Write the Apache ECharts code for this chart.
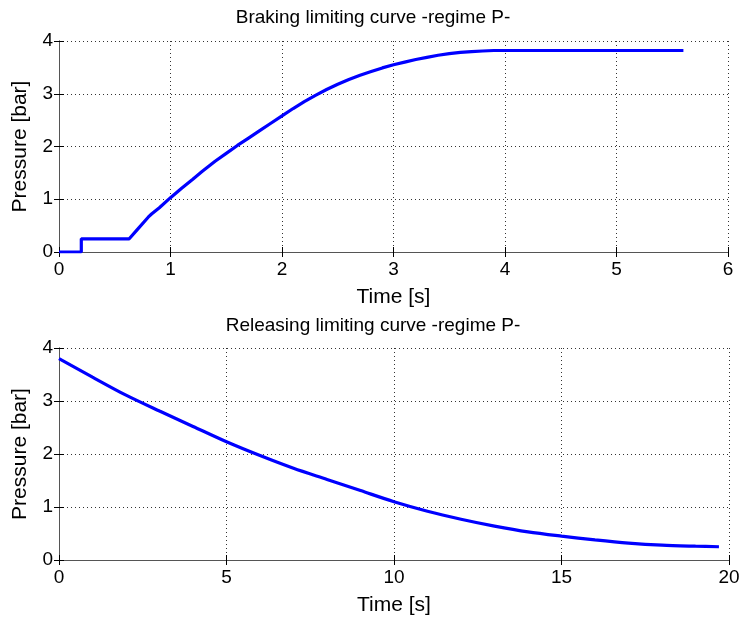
<!DOCTYPE html>
<html>
<head>
<meta charset="utf-8">
<script src="https://cdn.jsdelivr.net/npm/echarts@6/dist/echarts.min.js"></script>
<style>
html,body{margin:0;padding:0;background:#fff;}
#chart{width:742px;height:621px;}
</style>
</head>
<body>
<div id="chart"></div>
<script>
// ---- Data ----
var brakingTitle = "Braking limiting curve -regime P-";
var releasingTitle = "Releasing limiting curve -regime P-";
var xName = "Time [s]";
var yName = "Pressure [bar]";

var brakingTime = [0, 0.2, 0.2, 0.63, 0.7, 0.8, 0.83, 0.9, 1.0, 1.1, 1.2, 1.28, 1.4, 1.5, 1.6, 1.7, 1.8, 1.9, 2.0, 2.1, 2.2, 2.3, 2.4, 2.5, 2.6, 2.7, 2.8, 2.9, 3.0, 3.1, 3.2, 3.3, 3.4, 3.5, 3.6, 3.7, 3.8, 3.9, 5.6];
var brakingPressure = [0, 0, 0.25, 0.25, 0.42, 0.66, 0.72, 0.84, 1.03, 1.21, 1.38, 1.52, 1.72, 1.87, 2.02, 2.16, 2.30, 2.44, 2.58, 2.72, 2.85, 2.97, 3.08, 3.18, 3.27, 3.35, 3.42, 3.49, 3.55, 3.60, 3.65, 3.69, 3.73, 3.76, 3.785, 3.80, 3.81, 3.82, 3.82];

var releasingTime = [0, 1, 2, 3, 4, 5, 6, 7, 8, 9, 10, 11, 12, 13, 14, 15, 16, 17, 18, 19, 19.7];
var releasingPressure = [3.80, 3.45, 3.11, 2.81, 2.52, 2.23, 1.97, 1.73, 1.52, 1.31, 1.10, 0.92, 0.77, 0.64, 0.53, 0.45, 0.38, 0.32, 0.28, 0.26, 0.25];

var topXTicks = {min: 0, max: 6, interval: 1};
var bottomXTicks = {min: 0, max: 20, interval: 5};
var yTicks = {min: 0, max: 4, interval: 1};

// ---- Chart ----
var FONT = "Liberation Sans, Arial, sans-serif";
var AXC = "#555555";
var TICKFS = 19, NAMEFS = 21, TITLEFS = 19;
function zip(a, b) { return a.map(function (v, i) { return [v, b[i]]; }); }

function mainX(gi, t) {
  return {
    type: 'value', gridIndex: gi, min: t.min, max: t.max, interval: t.interval,
    name: xName, nameLocation: 'middle', nameGap: 35,
    nameTextStyle: {color: '#000', fontFamily: FONT, fontSize: NAMEFS},
    axisLine: {show: true, lineStyle: {color: AXC, width: 1}},
    axisTick: {show: true, inside: true, length: 5, lineStyle: {color: '#000'}},
    axisLabel: {color: '#000', fontFamily: FONT, fontSize: TICKFS, margin: 8},
    splitLine: {show: true, lineStyle: {color: '#333', type: [1, 3], width: 1}}
  };
}
function topX(gi, t) {
  return {
    type: 'value', gridIndex: gi, position: 'top', min: t.min, max: t.max, interval: t.interval,
    axisLine: {show: true, lineStyle: {color: AXC, width: 1}},
    axisTick: {show: true, inside: true, length: 5, lineStyle: {color: '#000'}},
    axisLabel: {show: false}, splitLine: {show: false}
  };
}
function mainY(gi) {
  return {
    type: 'value', gridIndex: gi, min: yTicks.min, max: yTicks.max, interval: yTicks.interval,
    name: yName, nameLocation: 'middle', nameGap: 28, nameRotate: 90,
    nameTextStyle: {color: '#000', fontFamily: FONT, fontSize: NAMEFS},
    axisLine: {show: true, lineStyle: {color: AXC, width: 1}},
    axisTick: {show: true, inside: true, length: 5, lineStyle: {color: '#000'}},
    axisLabel: {color: '#000', fontFamily: FONT, fontSize: TICKFS, margin: 6},
    splitLine: {show: true, lineStyle: {color: '#333', type: [1, 3], width: 1}}
  };
}
function rightY(gi) {
  return {
    type: 'value', gridIndex: gi, position: 'right', min: yTicks.min, max: yTicks.max, interval: yTicks.interval,
    axisLine: {show: true, lineStyle: {color: AXC, width: 1}},
    axisTick: {show: true, inside: true, length: 5, lineStyle: {color: '#000'}},
    axisLabel: {show: false}, splitLine: {show: false}
  };
}

var chart = echarts.init(document.getElementById('chart'), null, {renderer: 'canvas'});
chart.setOption({
  backgroundColor: '#fff',
  animation: false,
  title: [
    {text: brakingTitle, left: 368, top: 3, textAlign: 'center',
     textStyle: {color: '#000', fontFamily: FONT, fontSize: TITLEFS, fontWeight: 'normal'}},
    {text: releasingTitle, left: 368, top: 311, textAlign: 'center',
     textStyle: {color: '#000', fontFamily: FONT, fontSize: TITLEFS, fontWeight: 'normal'}}
  ],
  grid: [
    {left: 59, top: 41, width: 669, height: 211, containLabel: false, outerBoundsMode: 'none'},
    {left: 59, top: 348, width: 670, height: 212, containLabel: false, outerBoundsMode: 'none'}
  ],
  xAxis: [mainX(0, topXTicks), topX(0, topXTicks), mainX(1, bottomXTicks), topX(1, bottomXTicks)],
  yAxis: [mainY(0), rightY(0), mainY(1), rightY(1)],
  series: [
    {type: 'line', xAxisIndex: 0, yAxisIndex: 0, data: zip(brakingTime, brakingPressure),
     showSymbol: false, symbol: 'none', smooth: false,
     lineStyle: {color: '#0000ff', width: 3.2}},
    {type: 'line', xAxisIndex: 2, yAxisIndex: 2, data: zip(releasingTime, releasingPressure),
     showSymbol: false, symbol: 'none', smooth: 0.3,
     lineStyle: {color: '#0000ff', width: 3.2}}
  ]
});
</script>
</body>
</html>
